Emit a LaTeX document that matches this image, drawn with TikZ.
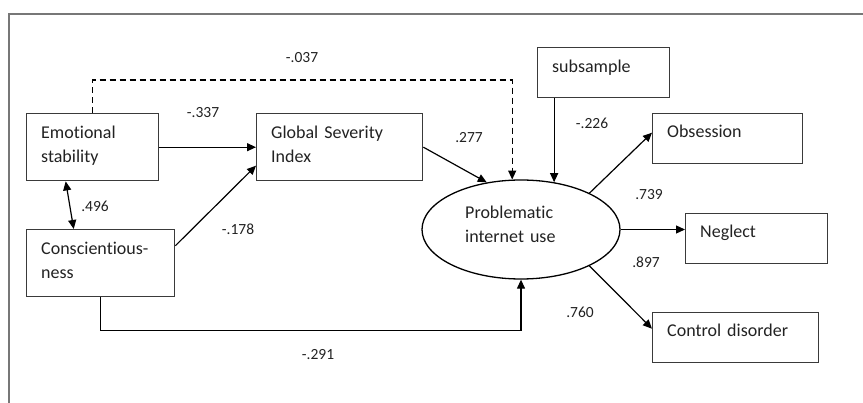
\documentclass[tikz,border=0pt]{standalone}
\usepackage{fontspec}
\setmainfont{Carlito}[Ligatures={NoCommon}]
\usetikzlibrary{arrows.meta,shapes.geometric}
\definecolor{boxc}{HTML}{3A3A3A}
\definecolor{txtc}{HTML}{222222}
\definecolor{framec}{HTML}{777777}
\tikzset{
  boxnode/.style={draw=boxc, line width=1.4pt, rectangle, anchor=north west, inner sep=0pt},
  boxtext/.style={anchor=base west, inner sep=0pt, text=txtc, font=\fontsize{18}{24}\selectfont, align=left, text width=160pt},
  coef/.style={inner sep=0pt, text=txtc, font=\fontsize{15.5}{17}\selectfont},
  conn/.style={draw=black, line width=1.2pt, -{Triangle[length=9pt,width=8pt]}},
}
\begin{document}
\begin{tikzpicture}[x=1pt,y=-1pt]
\useasboundingbox (0,0) rectangle (863,403);
% frame (clipped at right and bottom)
\draw[framec, line width=2pt] (9,410) -- (9,14) -- (870,14);

% boxes
\node[boxnode, minimum width=132pt, minimum height=67pt] (es) at (26,113) {};
\node[boxnode, minimum width=166pt, minimum height=67pt] (gsi) at (256,113) {};
\node[boxnode, minimum width=148pt, minimum height=67pt] (cons) at (26,229) {};
\node[boxnode, minimum width=132pt, minimum height=50pt] (sub) at (537,47) {};
\node[boxnode, minimum width=150pt, minimum height=50pt] (obs) at (652,113) {};
\node[boxnode, minimum width=142pt, minimum height=50pt] (neg) at (685,213) {};
\node[boxnode, minimum width=166pt, minimum height=50pt] (ctrl) at (652,312) {};
\node[draw=black, line width=1.3pt, ellipse, minimum width=198pt, minimum height=99pt, inner sep=0pt] (pr) at (521,229.5) {};

% box texts
\node[boxtext] (tes) at (41,139) {Emotional\\stability};
\node[boxtext] (tgsi) at (271,139) {Global Severity\\Index};
\node[boxtext] (tcons) at (41,255) {Conscientious-\\ness};
\node[boxtext] (tsub) at (552,73) {subsample};
\node[boxtext] (tobs) at (667,138) {Obsession};
\node[boxtext] (tneg) at (700,238) {Neglect};
\node[boxtext] (tctrl) at (667,337) {Control disorder};
\node[boxtext] (tpr) at (465,219) {Problematic\\internet use};

% connectors
\coordinate (dtop) at (0,80);
\draw[conn, dashed, dash pattern=on 6pt off 4pt] (es.north) -- (es.north |- dtop) -| (pr.100.3);
\draw[conn] (es.east |- gsi.west) -- (gsi.west);
\draw[conn] ([yshift=17.5pt]cons.east) -- ([yshift=-18.5pt]gsi.west);
\draw[draw=black, line width=1.2pt, {Triangle[length=9pt,width=8pt]}-{Triangle[length=9pt,width=8pt]}] ([xshift=-27pt]es.south) -- ([xshift=-27pt]cons.north);
\draw[conn] (cons.south) -- ++(0,33) -| (pr.south);
\draw[conn] (gsi.east) -- (pr.126);
\draw[conn] (pr.55.6 |- sub.south) -- (pr.55.6);
\draw[conn] (pr.28.5) -- ([yshift=6pt]obs.west);
\draw[conn] (pr.east) -- (pr.east -| neg.west);
\draw[conn] (pr.-28.5) -- ([yshift=9pt]ctrl.west);

% coefficients
\node[coef] (c1) at (302,58) {-.037};
\node[coef] (c2) at (203,113) {-.337};
\node[coef] (c3) at (95,206) {.496};
\node[coef] (c4) at (238,229) {-.178};
\node[coef] (c5) at (318,355) {-.291};
\node[coef] (c6) at (469,138) {.277};
\node[coef] (c7) at (592,123) {-.226};
\node[coef] (c8) at (649,195) {.739};
\node[coef] (c9) at (646,262) {.897};
\node[coef] (c10) at (580,312) {.760};
\end{tikzpicture}
\end{document}
